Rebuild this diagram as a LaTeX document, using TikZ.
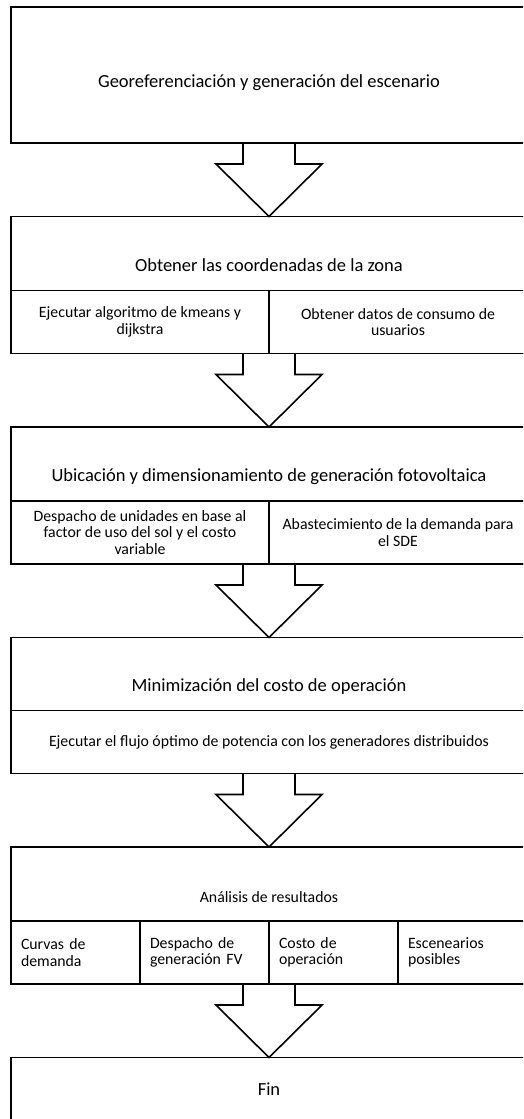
\documentclass[tikz,border=0pt]{standalone}
\usepackage{fontspec}
\setmainfont{Carlito}
\usetikzlibrary{positioning,calc}

\begin{document}
\begin{tikzpicture}[x=1pt, y=1pt, node distance=73.5pt,
                    stage/.style={draw=black, line width=1.8pt, minimum width=516pt,
                                  minimum height=137pt, inner sep=0pt, outer sep=0pt},
                    part/.style={draw=black, line width=1.8pt, minimum height=63pt,
                                 inner sep=0pt, outer sep=0pt, align=center,
                                 font=\fontsize{15.8}{16.5}\selectfont},
                    half/.style={part, minimum width=258pt},
                    quarter/.style={part, inner xsep=10pt, text width=109pt, align=left},
                    title/.style={font=\fontsize{18.5}{22}\selectfont},
                    blockarrow/.style={draw=black, line width=1.6pt, line join=miter}]

\useasboundingbox (0,0) rectangle (523,-1119);
\clip (0,0) rectangle (523,-1119);

% etapa 1
\node[stage, minimum height=136pt] (b1) at (269,-75) {};
\node[title] (t1) at ($(b1.north)+(0,-76)$) {Georeferenciación y generación del escenario};

% etapa 2
\node[stage, below=of b1] (b2) {};
\node[title] (t2) at ($(b2.north)+(0,-49)$) {Obtener las coordenadas de la zona};
\node[half, anchor=south west] (s2a) at (b2.south west) {Ejecutar algoritmo de kmeans y\\dijkstra};
\node[half, anchor=south east] (s2b) at (b2.south east) {Obtener datos de consumo de\\usuarios};

% etapa 3
\node[stage, below=of b2] (b3) {};
\node[title] (t3) at ($(b3.north)+(0,-50)$) {Ubicación y dimensionamiento de generación fotovoltaica};
\node[half, anchor=south west] (s3a) at (b3.south west) {Despacho de unidades en base al\\factor de uso del sol y el costo\\variable};
\node[half, anchor=south east] (s3b) at (b3.south east) {Abastecimiento de la demanda para\\el SDE};

% etapa 4
\node[stage, minimum height=136pt, below=of b3] (b4) {};
\node[title] (t4) at ($(b4.north)+(0,-49)$) {Minimización del costo de operación};
\node[part, minimum width=516pt, anchor=south] (s4) at (b4.south) {Ejecutar el flujo óptimo de potencia con los generadores distribuidos};

% etapa 5
\node[stage, below=of b4] (b5) {};
\node[title, font=\fontsize{15.8}{16.5}\selectfont] (t5) at ($(b5.north)+(0,-50)$) {Análisis de resultados};
\node[quarter, anchor=south west] (s5a) at (b5.south west) {Curvas de\\demanda};
\node[quarter, right=0pt of s5a] (s5b) {Despacho de\\generación FV};
\node[quarter, right=0pt of s5b] (s5c) {Costo de\\operación};
\node[quarter, right=0pt of s5c] (s5d) {Escenearios\\posibles};

% fin
\node[stage, below=of b5] (b6) {};
\node[title] (t6) at ($(b6.north)+(0,-32)$) {Fin};

\foreach \a/\b in {b1/b2,b2/b3,b3/b4,b4/b5,b5/b6}
  \draw[blockarrow] ($(\a.south)+(-26,0)$) -- ++(0,-21) -- ++(-27,0) -- (\b.north)
    -- ($(\a.south)+(53,-21)$) -- ++(-27,0) -- ++(0,21);
\end{tikzpicture}
\end{document}
